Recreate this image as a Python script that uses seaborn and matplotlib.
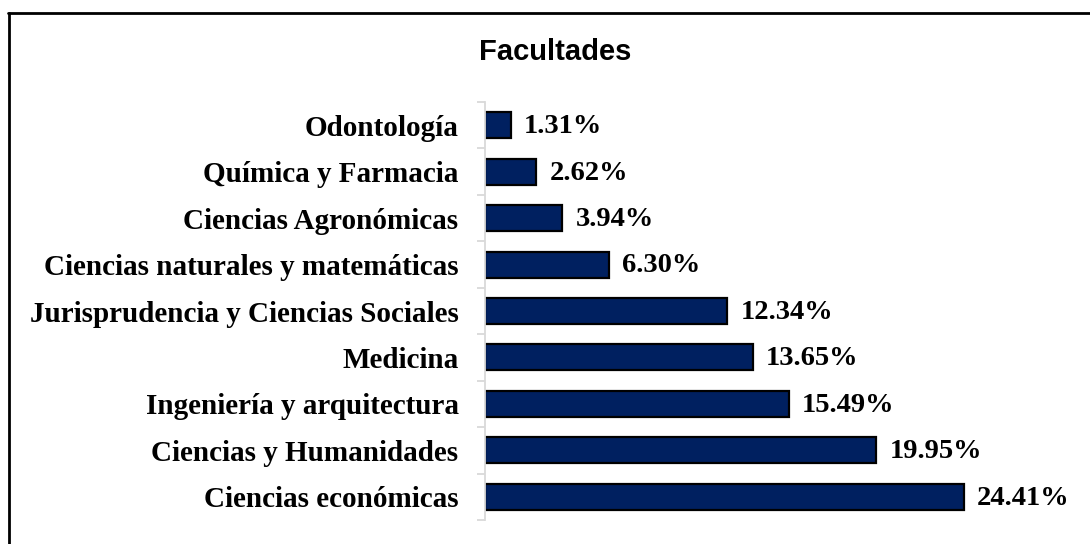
import matplotlib
matplotlib.use("Agg")
import matplotlib.pyplot as plt
import seaborn as sns
import numpy as np
import pandas as pd
from matplotlib.lines import Line2D

# ── Data ──────────────────────────────────────────────────────────────────────
facultades = [
    "Odontología",
    "Química y Farmacia",
    "Ciencias Agronómicas",
    "Ciencias naturales y matemáticas",
    "Jurisprudencia y Ciencias Sociales",
    "Medicina",
    "Ingeniería y arquitectura",
    "Ciencias y Humanidades",
    "Ciencias económicas",
]
porcentajes = [1.31, 2.62, 3.94, 6.30, 12.34, 13.65, 15.49, 19.95, 24.41]

df = pd.DataFrame({"facultad": facultades, "pct": porcentajes})

# ── Figure ────────────────────────────────────────────────────────────────────
sns.set_style("white")
W, H = 1090, 544
fig = plt.figure(figsize=(W / 100, H / 100), dpi=100)
ax = fig.add_axes([485 / W, 1 - 520 / H, (1075 - 485) / W, (520 - 102) / H])

sns.barplot(data=df, x="pct", y="facultad", orient="h", ax=ax,
            color="#002060", saturation=1, width=0.56,
            edgecolor="black", linewidth=1.6)

ax.set_xlim(0, (1075 - 485) / 19.62)
ax.set_ylim(len(facultades) - 0.5, -0.5)
ax.set_xlabel("")
ax.set_ylabel("")
ax.set_xticks([])

for s in ["top", "right", "bottom"]:
    ax.spines[s].set_visible(False)
ax.spines["left"].set_color("#d9d9d9")
ax.spines["left"].set_linewidth(1.3)

ax.tick_params(axis="y", which="major", left=False, length=0, pad=19)
ax.set_yticks(np.arange(len(facultades) + 1) - 0.5, minor=True)
ax.tick_params(axis="y", which="minor", left=True, length=6, width=1.3,
               color="#d9d9d9")
for lbl in ax.get_yticklabels():
    lbl.set_family("Liberation Serif")
    lbl.set_fontweight("bold")
    lbl.set_fontsize(21)
    lbl.set_color("black")

# value labels
for i, v in enumerate(porcentajes):
    ax.annotate(f"{v:.2f}%", xy=(v, i), xytext=(9.5, -1),
                textcoords="offset points", va="center", ha="left",
                family="Liberation Serif", fontweight="bold", fontsize=20.5,
                color="black")

# title
fig.text(555 / W, 1 - 52 / H, "Facultades", ha="center", va="center",
         family="Liberation Sans", fontweight="bold", fontsize=21,
         color="black")

# outer frame (top and left edges visible)
fig.add_artist(Line2D([8 / W, 1], [1 - 13 / H, 1 - 13 / H],
                      transform=fig.transFigure, color="black", lw=2))
fig.add_artist(Line2D([9 / W, 9 / W], [0, 1 - 13 / H],
                      transform=fig.transFigure, color="black", lw=2))

fig.savefig("out.png", dpi=100)
plt.close(fig)
